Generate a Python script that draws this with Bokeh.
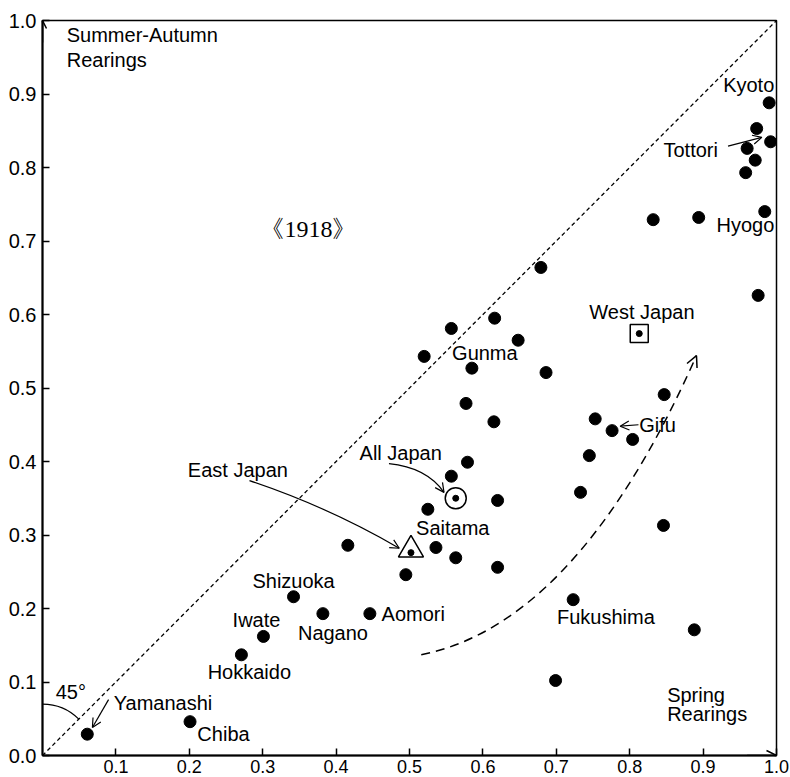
import math
from bokeh.plotting import figure
from bokeh.models import FixedTicker, Arrow, OpenHead, ColumnDataSource
from bokeh.core.properties import value
from bokeh.embed import file_html
from bokeh.resources import INLINE

# ---- data: prefectures (spring rearings x, summer-autumn rearings y) ----
pref_x = [0.990, 0.973, 0.992, 0.960, 0.971, 0.958, 0.832, 0.894, 0.984, 0.679, 0.975,
          0.520, 0.557, 0.616, 0.648, 0.585, 0.686, 0.577, 0.615, 0.847, 0.753, 0.776,
          0.804, 0.745, 0.579, 0.557, 0.620, 0.525, 0.416, 0.536, 0.563, 0.620, 0.495,
          0.342, 0.382, 0.446, 0.301, 0.271, 0.201, 0.061, 0.888, 0.699, 0.733, 0.846,
          0.723]
pref_y = [0.888, 0.853, 0.835, 0.826, 0.810, 0.793, 0.729, 0.732, 0.740, 0.664, 0.626,
          0.543, 0.581, 0.595, 0.565, 0.527, 0.521, 0.479, 0.454, 0.491, 0.458, 0.442,
          0.430, 0.408, 0.399, 0.380, 0.347, 0.335, 0.286, 0.283, 0.269, 0.256, 0.246,
          0.216, 0.193, 0.193, 0.162, 0.137, 0.046, 0.029, 0.171, 0.102, 0.358, 0.313,
          0.212]

# aggregates
all_japan = (0.563, 0.350)
east_japan = (0.502, 0.276)
west_japan = (0.813, 0.574)

x_ticks = [0.1, 0.2, 0.3, 0.4, 0.5, 0.6, 0.7, 0.8, 0.9, 1.0]
x_tick_labels = ["0.1", "0.2", "0.3", "0.4", "0.5", "0.6", "0.7", "0.8", "0.9", "1.0"]
y_ticks = [0.0, 0.1, 0.2, 0.3, 0.4, 0.5, 0.6, 0.7, 0.8, 0.9, 1.0]
y_tick_labels = ["0.0", "0.1", "0.2", "0.3", "0.4", "0.5", "0.6", "0.7", "0.8", "0.9", "1.0"]

# labels (text, x, y, align)
lab_text = ["Kyoto", "Tottori", "Hyogo", "West  Japan", "Gunma", "Gifu", "All  Japan",
            "East  Japan", "Saitama", "Shizuoka", "Aomori", "Iwate", "Nagano", "Hokkaido",
            "Yamanashi", "Chiba", "Fukushima", "45°", "Spring", "Rearings",
            "Summer-Autumn", "Rearings"]
lab_x = [0.997, 0.846, 0.997, 0.745, 0.558, 0.813, 0.432, 0.198, 0.509, 0.286, 0.462,
         0.259, 0.348, 0.225, 0.097, 0.211, 0.701, 0.018, 0.851, 0.851, 0.033, 0.033]
lab_y = [0.912, 0.824, 0.722, 0.603, 0.548, 0.449, 0.412, 0.389, 0.309, 0.238, 0.193,
         0.184, 0.167, 0.113, 0.071, 0.029, 0.188, 0.086, 0.082, 0.056, 0.980, 0.946]
lab_align = ["right", "left", "right", "left", "left", "left", "left", "left", "left",
             "left", "left", "left", "left", "left", "left", "left", "left", "left",
             "left", "left", "left", "left"]

year_label = "《1918》"
year_pos = (0.297, 0.716)

# annotation arrows (start -> end)
straight_arrows = [
    ((0.934, 0.829), (0.980, 0.841)),   # Tottori
    ((0.812, 0.450), (0.787, 0.448)),   # Gifu
    ((0.090, 0.076), (0.068, 0.038)),   # Yamanashi
]
allj_curve = ((0.472, 0.397), (0.523, 0.392), (0.547, 0.358))
eastj_curve = ((0.282, 0.374), (0.390, 0.338), (0.486, 0.282))
# trend curve: start, control 1, control 2, end
trend_curve = ((0.516, 0.137), (0.68, 0.17), (0.80, 0.34), (0.891, 0.544))

FONT = "Liberation Sans"

p = figure(width=790, height=777, x_range=(0, 1), y_range=(0, 1),
           output_backend="svg", toolbar_location=None,
           min_border_left=42, min_border_right=14, min_border_top=20, min_border_bottom=22)
p.grid.visible = False
p.background_fill_color = "white"
p.outline_line_color = "black"
p.outline_line_width = 1.5

for ax, ticks, labels, so, fs in ((p.xaxis[0], x_ticks, x_tick_labels, 4, "18px"),
                                  (p.yaxis[0], y_ticks, y_tick_labels, 6, "20px")):
    ax.ticker = FixedTicker(ticks=ticks)
    ax.major_label_overrides = {t: l for t, l in zip(ticks, labels)}
    ax.axis_line_width = 2
    ax.axis_line_color = "black"
    ax.major_tick_in = 7
    ax.major_tick_out = 0
    ax.major_tick_line_width = 1.5
    ax.minor_tick_in = 0
    ax.minor_tick_out = 0
    ax.major_label_text_font = FONT
    ax.major_label_text_font_size = fs
    ax.major_label_text_color = "black"
    ax.major_label_standoff = so

# 45 degree line
p.line([0, 1], [0, 1], line_color="black", line_width=1.3, line_dash="4 3")

# angle arc
p.arc(x=0, y=0, radius=0.07, start_angle=math.pi / 4, end_angle=math.pi / 2,
      line_color="black", line_width=1.2)

# points
p.scatter(pref_x, pref_y, size=12, color="black")

# aggregates
p.scatter([all_japan[0]], [all_japan[1]], marker="circle", size=21, fill_color=None,
          line_color="black", line_width=1.5)
p.scatter([east_japan[0]], [east_japan[1] + 0.004], marker="triangle", size=25, fill_color=None,
          line_color="black", line_width=1.5)
p.scatter([west_japan[0]], [west_japan[1]], marker="square", size=18, fill_color=None,
          line_color="black", line_width=1.5)
p.scatter([all_japan[0], east_japan[0], west_japan[0]],
          [all_japan[1], east_japan[1], west_japan[1]], size=6, color="black")

# trend dashed curve
(t0x, t0y), (t1x, t1y), (t2x, t2y), (t3x, t3y) = trend_curve
p.bezier(x0=[t0x], y0=[t0y], x1=[t3x], y1=[t3y], cx0=[t1x], cy0=[t1y], cx1=[t2x], cy1=[t2y],
         line_color="black", line_width=1.5, line_dash="9 6")
p.add_layout(Arrow(x_start=t3x - 0.1 * (t3x - t2x), y_start=t3y - 0.1 * (t3y - t2y),
                   x_end=t3x, y_end=t3y,
                   line_alpha=0, end=OpenHead(size=11, line_width=1.5)))

# annotation arrows
for (x0, y0), (x1, y1) in straight_arrows:
    p.add_layout(Arrow(x_start=x0, y_start=y0, x_end=x1, y_end=y1, line_width=1.2,
                       end=OpenHead(size=9, line_width=1.2)))
for (a0, a1), (c0, c1), (b0, b1) in (allj_curve, eastj_curve):
    p.quadratic(x0=[a0], y0=[a1], x1=[b0], y1=[b1], cx=[c0], cy=[c1],
                line_color="black", line_width=1.2)
    p.add_layout(Arrow(x_start=b0 - 0.15 * (b0 - c0), y_start=b1 - 0.15 * (b1 - c1),
                       x_end=b0, y_end=b1, line_alpha=0,
                       end=OpenHead(size=9, line_width=1.2)))

# axis arrows
p.add_layout(Arrow(x_start=0.96, y_start=0, x_end=1.0, y_end=0, line_width=1.5,
                   end=OpenHead(size=10, line_width=1.5)))
p.add_layout(Arrow(x_start=0, y_start=0.97, x_end=0, y_end=1.0, line_width=1.5,
                   end=OpenHead(size=8, line_width=1.5)))

# labels
src = ColumnDataSource(dict(x=lab_x, y=lab_y, text=lab_text, align=lab_align))
p.text(x="x", y="y", text="text", text_align="align", source=src, text_baseline="middle",
       text_font=value(FONT), text_font_size="20px", text_color="black")
p.text(x=[year_pos[0]], y=[year_pos[1]], text=[year_label], text_baseline="middle",
       text_font=value("Liberation Serif"), text_font_size="24px", text_color="black")

open("out.html", "w").write(file_html(p, INLINE))
